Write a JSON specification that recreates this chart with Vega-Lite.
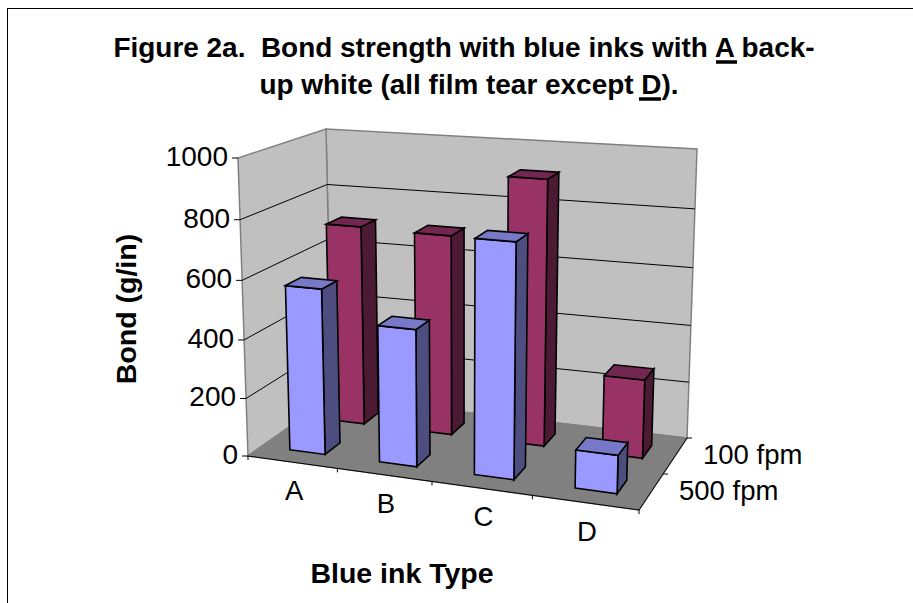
{
  "$schema": "https://vega.github.io/schema/vega-lite/v6.json",
  "width": 913,
  "height": 603,
  "padding": 0,
  "autosize": {"type": "none"},
  "background": "#ffffff",
  "config": {"view": {"stroke": null}},
  "params": [
    {"name": "perspective", "value": 0.045},
    {"name": "inkPerspective", "value": 0.125}
  ],
  "datasets": {
    "bars": [
      {"ink": "A", "speed": "100 fpm", "value": 709},
      {"ink": "B", "speed": "100 fpm", "value": 703},
      {"ink": "C", "speed": "100 fpm", "value": 917},
      {"ink": "D", "speed": "100 fpm", "value": 271},
      {"ink": "A", "speed": "500 fpm", "value": 568},
      {"ink": "B", "speed": "500 fpm", "value": 465},
      {"ink": "C", "speed": "500 fpm", "value": 781},
      {"ink": "D", "speed": "500 fpm", "value": 127}
    ],
    "planes": [{"plane": "back"}, {"plane": "side"}, {"plane": "floor"}],
    "values": [{"value": 0}, {"value": 200}, {"value": 400}, {"value": 600}, {"value": 800}, {"value": 1000}],
    "inks": [{"ink": "A"}, {"ink": "B"}, {"ink": "C"}, {"ink": "D"}],
    "speeds": [{"speed": "500 fpm"}, {"speed": "100 fpm"}],
    "inkEdges": [{"edge": 0}, {"edge": 1}, {"edge": 2}, {"edge": 3}, {"edge": 4}],
    "speedEdges": [{"edge": 0}, {"edge": 1}, {"edge": 2}]
  },
  "resolve": {"scale": {"fill": "independent"}},
  "layer": [
    {
      "description": "Chart area border, left and top edges",
      "data": {"values": [{"edge": "left"}]},
      "mark": {"type": "rule", "color": "#000000", "strokeWidth": 1},
      "encoding": {
        "x": {"datum": 7.5, "type": "quantitative", "scale": {"domain": [0, 913], "nice": false, "zero": false}, "axis": null},
        "y": {"datum": 8, "type": "quantitative", "scale": {"domain": [603, 0], "nice": false, "zero": false}, "axis": null},
        "y2": {"datum": 603}
      }
    },
    {
      "data": {"values": [{"edge": "top"}]},
      "mark": {"type": "rule", "color": "#000000", "strokeWidth": 1},
      "encoding": {
        "x": {"datum": 7, "type": "quantitative"},
        "x2": {"datum": 913},
        "y": {"datum": 8.5, "type": "quantitative"}
      }
    },
    {
      "description": "Walls and floor of the 3D box",
      "data": {"name": "planes"},
      "transform": [
        {"calculate": "[0,1,2,3]", "as": "c"},
        {"flatten": ["c"]},
        {"calculate": "datum.plane=='side'?0:((datum.c==1||datum.c==2)?1:0)", "as": "u"},
        {"calculate": "datum.plane=='back'?1:(datum.plane=='side'?((datum.c==1||datum.c==2)?1:0):(datum.c>=2?1:0))", "as": "v"},
        {"calculate": "datum.plane=='floor'?0:(datum.c>=2?1:0)", "as": "w"},
        {"calculate": "(1-datum.w)*((1-datum.v)*(248+datum.u*391)+datum.v*(332+datum.u*355))+datum.w*((1-datum.v)*(238+datum.u*410)+datum.v*(326+datum.u*371))", "as": "px"},
        {"calculate": "(1-datum.w)*((1-datum.v)*(456+datum.u*54)+datum.v*(397+datum.u*41))+datum.w*((1-datum.v)*(158+datum.u*31)+datum.v*(129+datum.u*20))", "as": "py"}
      ],
      "mark": {"type": "line", "interpolate": "linear-closed", "strokeWidth": 1.5, "stroke": "#808080", "strokeJoin": "miter"},
      "encoding": {
        "x": {"field": "px", "type": "quantitative"},
        "y": {"field": "py", "type": "quantitative"},
        "order": {"field": "c", "type": "quantitative"},
        "detail": {"field": "plane"},
        "fill": {"field": "plane", "type": "nominal", "legend": null,
          "scale": {"domain": ["back", "side", "floor"], "range": ["#c0c0c0", "#c0c0c0", "#808080"]}}
      }
    },
    {
      "description": "Gridlines on side and back walls at each tick value",
      "data": {"name": "values"},
      "transform": [
        {"filter": "datum.value>0&&datum.value<1000"},
        {"calculate": "[0,1,2]", "as": "c"},
        {"flatten": ["c"]},
        {"calculate": "datum.c==2?1:0", "as": "u"},
        {"calculate": "datum.c>=1?1:0", "as": "v"},
        {"calculate": "(datum.value/1000)/(1+perspective*(1-datum.value/1000))", "as": "w"},
        {"calculate": "(1-datum.w)*((1-datum.v)*(248+datum.u*391)+datum.v*(332+datum.u*355))+datum.w*((1-datum.v)*(238+datum.u*410)+datum.v*(326+datum.u*371))", "as": "px"},
        {"calculate": "(1-datum.w)*((1-datum.v)*(456+datum.u*54)+datum.v*(397+datum.u*41))+datum.w*((1-datum.v)*(158+datum.u*31)+datum.v*(129+datum.u*20))", "as": "py"}
      ],
      "mark": {"type": "line", "color": "#000000", "strokeWidth": 1},
      "encoding": {
        "x": {"field": "px", "type": "quantitative"},
        "y": {"field": "py", "type": "quantitative"},
        "order": {"field": "c", "type": "quantitative"},
        "detail": {"field": "value"}
      }
    },
    {
      "description": "Axis lines along the front and right edges of the floor, and the value axis",
      "data": {"values": [{"axis": "floor"}]},
      "transform": [
        {"calculate": "[0,1,2]", "as": "c"},
        {"flatten": ["c"]},
        {"calculate": "datum.c>=1?1:0", "as": "u"},
        {"calculate": "datum.c==2?1:0", "as": "v"},
        {"calculate": "(1-datum.v)*(248+datum.u*391)+datum.v*(332+datum.u*355)", "as": "px"},
        {"calculate": "(1-datum.v)*(456+datum.u*54)+datum.v*(397+datum.u*41)", "as": "py"}
      ],
      "mark": {"type": "line", "color": "#000000", "strokeWidth": 1},
      "encoding": {
        "x": {"field": "px", "type": "quantitative"},
        "y": {"field": "py", "type": "quantitative"},
        "order": {"field": "c", "type": "quantitative"}
      }
    },
    {
      "description": "Ticks on the value axis",
      "data": {"name": "values"},
      "transform": [
        {"calculate": "(datum.value/1000)/(1+perspective*(1-datum.value/1000))", "as": "w"},
        {"calculate": "(1-datum.w)*248+datum.w*238", "as": "px"},
        {"calculate": "(1-datum.w)*456+datum.w*158", "as": "py"},
        {"calculate": "datum.px-6", "as": "px2"}
      ],
      "mark": {"type": "rule", "color": "#000000", "strokeWidth": 1},
      "encoding": {
        "x": {"field": "px", "type": "quantitative"},
        "x2": {"field": "px2"},
        "y": {"field": "py", "type": "quantitative"}
      }
    },
    {
      "description": "Ticks between ink categories",
      "data": {"name": "inkEdges"},
      "transform": [
        {"calculate": "(datum.edge*0.25)/(1+inkPerspective*(1-datum.edge*0.25))", "as": "u"},
        {"calculate": "248+datum.u*391", "as": "px"},
        {"calculate": "456+datum.u*54", "as": "py"},
        {"calculate": "datum.py+4", "as": "py2"}
      ],
      "mark": {"type": "rule", "color": "#000000", "strokeWidth": 1},
      "encoding": {
        "x": {"field": "px", "type": "quantitative"},
        "y": {"field": "py", "type": "quantitative"},
        "y2": {"field": "py2"}
      }
    },
    {
      "description": "Ticks between speed series",
      "data": {"name": "speedEdges"},
      "transform": [
        {"filter": "datum.edge>0"},
        {"calculate": "639+datum.edge*0.5*48", "as": "px"},
        {"calculate": "510-datum.edge*0.5*72", "as": "py"},
        {"calculate": "datum.px+5", "as": "px2"}
      ],
      "mark": {"type": "rule", "color": "#000000", "strokeWidth": 1},
      "encoding": {
        "x": {"field": "px", "type": "quantitative"},
        "x2": {"field": "px2"},
        "y": {"field": "py", "type": "quantitative"}
      }
    },
    {
      "description": "Bars: each bar contributes a side, front and top polygon, rear series first",
      "data": {"name": "bars"},
      "transform": [
        {"calculate": "indexof('ABCD',datum.ink)", "as": "i"},
        {"calculate": "0.08+0.25*datum.i", "as": "n0"},
        {"calculate": "datum.n0+0.1", "as": "n1"},
        {"calculate": "datum.n0/(1+inkPerspective*(1-datum.n0))", "as": "u0"},
        {"calculate": "datum.n1/(1+inkPerspective*(1-datum.n1))", "as": "u1"},
        {"calculate": "datum.speed=='100 fpm'?0.67:0.17", "as": "v0"},
        {"calculate": "datum.speed=='100 fpm'?0.85:0.36", "as": "v1"},
        {"calculate": "(datum.value/1000)/(1+perspective*(1-datum.value/1000))", "as": "h"},
        {"calculate": "['side','front','top']", "as": "face"},
        {"flatten": ["face"]},
        {"calculate": "[0,1,2,3]", "as": "c"},
        {"flatten": ["c"]},
        {"calculate": "datum.face=='side'?datum.u1:((datum.c==1||datum.c==2)?datum.u1:datum.u0)", "as": "u"},
        {"calculate": "datum.face=='front'?datum.v0:(datum.face=='side'?((datum.c==1||datum.c==2)?datum.v1:datum.v0):(datum.c>=2?datum.v1:datum.v0))", "as": "v"},
        {"calculate": "datum.face=='top'?datum.h:(datum.c>=2?datum.h:0)", "as": "w"},
        {"calculate": "(1-datum.w)*((1-datum.v)*(248+datum.u*391)+datum.v*(332+datum.u*355))+datum.w*((1-datum.v)*(238+datum.u*410)+datum.v*(326+datum.u*371))", "as": "px"},
        {"calculate": "(1-datum.w)*((1-datum.v)*(456+datum.u*54)+datum.v*(397+datum.u*41))+datum.w*((1-datum.v)*(158+datum.u*31)+datum.v*(129+datum.u*20))", "as": "py"},
        {"calculate": "datum.speed+' '+datum.face", "as": "tone"},
        {"calculate": "datum.speed+datum.ink+datum.face", "as": "poly"}
      ],
      "mark": {"type": "line", "interpolate": "linear-closed", "stroke": "#000000", "strokeWidth": 1.6, "strokeJoin": "miter"},
      "encoding": {
        "x": {"field": "px", "type": "quantitative"},
        "y": {"field": "py", "type": "quantitative"},
        "order": {"field": "c", "type": "quantitative"},
        "detail": {"field": "poly"},
        "fill": {"field": "tone", "type": "nominal", "legend": null,
          "scale": {
            "domain": ["100 fpm front", "100 fpm side", "100 fpm top", "500 fpm front", "500 fpm side", "500 fpm top"],
            "range": ["#993366", "#4d1a33", "#732650", "#9999ff", "#4d4d80", "#7878c8"]
          }}
      }
    },
    {
      "description": "Value axis labels",
      "data": {"name": "values"},
      "transform": [
        {"calculate": "(datum.value/1000)/(1+perspective*(1-datum.value/1000))", "as": "w"},
        {"calculate": "(1-datum.w)*248+datum.w*238", "as": "px"},
        {"calculate": "(1-datum.w)*456+datum.w*158", "as": "py"}
      ],
      "mark": {"type": "text", "font": "Liberation Sans", "fontSize": 28, "align": "right", "baseline": "middle", "dx": -10, "color": "#000000"},
      "encoding": {
        "x": {"field": "px", "type": "quantitative"},
        "y": {"field": "py", "type": "quantitative"},
        "text": {"field": "value", "type": "nominal"}
      }
    },
    {
      "description": "Ink category labels",
      "data": {"name": "inks"},
      "transform": [
        {"calculate": "(indexof('ABCD',datum.ink)+0.5)*0.25", "as": "n"},
        {"calculate": "datum.n/(1+inkPerspective*(1-datum.n))", "as": "u"},
        {"calculate": "248+datum.u*391", "as": "px"},
        {"calculate": "456+datum.u*54", "as": "py"}
      ],
      "mark": {"type": "text", "font": "Liberation Sans", "fontSize": 27.5, "align": "center", "baseline": "middle", "dx": 2, "dy": 30, "color": "#000000"},
      "encoding": {
        "x": {"field": "px", "type": "quantitative"},
        "y": {"field": "py", "type": "quantitative"},
        "text": {"field": "ink"}
      }
    },
    {
      "description": "Speed series labels",
      "data": {"name": "speeds"},
      "transform": [
        {"calculate": "datum.speed=='100 fpm'?0.75:0.25", "as": "v"},
        {"calculate": "639+datum.v*48", "as": "px"},
        {"calculate": "510-datum.v*72", "as": "py"}
      ],
      "mark": {"type": "text", "font": "Liberation Sans", "fontSize": 27.5, "align": "left", "baseline": "middle", "dx": 28, "dy": 0, "color": "#000000"},
      "encoding": {
        "x": {"field": "px", "type": "quantitative"},
        "y": {"field": "py", "type": "quantitative"},
        "text": {"field": "speed"}
      }
    },
    {
      "description": "Chart title, first line; the double space after the figure number is kept with a no-break space",
      "data": {"values": [{"line": "Figure 2a.\u00a0 Bond strength with blue inks with A back-"}]},
      "mark": {"type": "text", "font": "Liberation Sans", "fontSize": 27.95, "fontWeight": "bold", "align": "center", "baseline": "alphabetic", "color": "#000000"},
      "encoding": {
        "x": {"datum": 464, "type": "quantitative"},
        "y": {"datum": 57, "type": "quantitative"},
        "text": {"field": "line"}
      }
    },
    {
      "data": {"values": [{"line": "up white (all film tear except D)."}]},
      "mark": {"type": "text", "font": "Liberation Sans", "fontSize": 27.95, "fontWeight": "bold", "align": "center", "baseline": "alphabetic", "color": "#000000"},
      "encoding": {
        "x": {"datum": 469, "type": "quantitative"},
        "y": {"datum": 94, "type": "quantitative"},
        "text": {"field": "line"}
      }
    },
    {
      "description": "Underline below the letter A in the title",
      "data": {"values": [{"letter": "A"}]},
      "mark": {"type": "rule", "color": "#000000", "strokeWidth": 3.5},
      "encoding": {
        "x": {"datum": 716, "type": "quantitative"},
        "x2": {"datum": 737},
        "y": {"datum": 62, "type": "quantitative"}
      }
    },
    {
      "description": "Underline below the letter D in the title",
      "data": {"values": [{"letter": "D"}]},
      "mark": {"type": "rule", "color": "#000000", "strokeWidth": 3.5},
      "encoding": {
        "x": {"datum": 639, "type": "quantitative"},
        "x2": {"datum": 661},
        "y": {"datum": 99, "type": "quantitative"}
      }
    },
    {
      "description": "Value axis title",
      "data": {"values": [{"label": "Bond (g/in)"}]},
      "mark": {"type": "text", "font": "Liberation Sans", "fontSize": 28.5, "fontWeight": "bold", "align": "center", "baseline": "middle", "angle": 270, "color": "#000000"},
      "encoding": {
        "x": {"datum": 127, "type": "quantitative"},
        "y": {"datum": 309, "type": "quantitative"},
        "text": {"field": "label"}
      }
    },
    {
      "description": "Category axis title",
      "data": {"values": [{"label": "Blue ink Type"}]},
      "mark": {"type": "text", "font": "Liberation Sans", "fontSize": 28.5, "fontWeight": "bold", "align": "center", "baseline": "middle", "color": "#000000"},
      "encoding": {
        "x": {"datum": 402, "type": "quantitative"},
        "y": {"datum": 574, "type": "quantitative"},
        "text": {"field": "label"}
      }
    }
  ]
}
